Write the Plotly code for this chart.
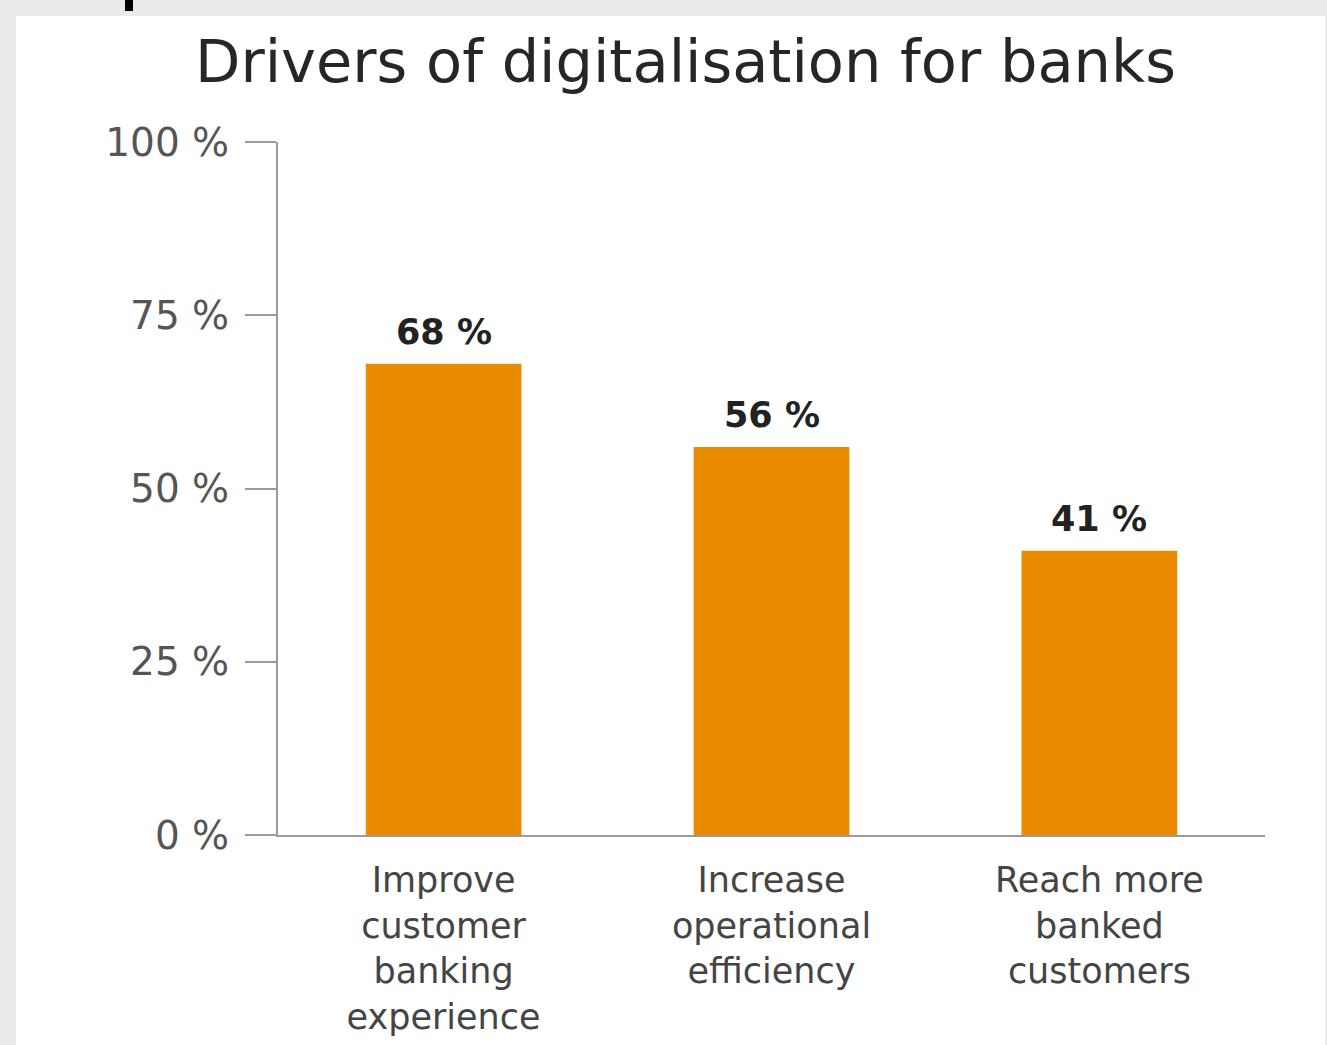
import plotly.graph_objects as go

# Survey results: share of banks naming each driver of digitalisation
drivers = [
    "Improve<br>customer<br>banking<br>experience",
    "Increase<br>operational<br>efficiency",
    "Reach more<br>banked<br>customers",
]
shares = [68, 56, 41]
y_ticks = [0, 25, 50, 75, 100]
y_tick_labels = [f"{v} %" for v in y_ticks]
title_text = "Drivers of digitalisation for banks"

BAR_COLOR = "#EB8B00"
AXIS_COLOR = "#9a9a9a"
FONT = "DejaVu Sans"

# Plot-area pixel geometry (used to place the panel behind the chart)
W, H = 1327, 1045
L, R, T, B = 278, 62, 142, 210
pw, ph = W - L - R, H - T - B


def px_x(x):
    return (x - L) / pw


def px_y(y):
    return (H - B - y) / ph


x_pos = list(range(len(drivers)))

fig = go.Figure(
    go.Bar(
        x=x_pos,
        y=shares,
        width=0.475,
        marker=dict(color=BAR_COLOR, line=dict(width=0)),
        hoverinfo="skip",
    )
)

# Value labels above each bar
for xi, v in zip(x_pos, shares):
    fig.add_annotation(
        x=xi, y=v, xref="x", yref="y",
        text=f"<b>{v} %</b>", showarrow=False,
        yanchor="bottom", yshift=10,
        font=dict(family=FONT, size=35, color="#222222"),
    )

# Title
fig.add_annotation(
    x=px_x(685), y=px_y(62), xref="paper", yref="paper",
    text=title_text, showarrow=False,
    xanchor="center", yanchor="middle",
    font=dict(family=FONT, size=59, color="#262626"),
)

# White panel on the textured grey page, plus a small black mark at the top edge
fig.add_shape(
    type="rect", xref="paper", yref="paper", layer="below",
    x0=px_x(16), x1=px_x(1325), y0=px_y(1045), y1=px_y(16),
    fillcolor="white", line=dict(width=0),
)
fig.add_shape(
    type="rect", xref="paper", yref="paper", layer="above",
    x0=px_x(125), x1=px_x(133), y0=px_y(11), y1=px_y(0),
    fillcolor="black", line=dict(width=0),
)

fig.update_layout(
    width=W, height=H,
    margin=dict(l=L, r=R, t=T, b=B, autoexpand=False),
    paper_bgcolor="#ebebeb",
    plot_bgcolor="rgba(0,0,0,0)",
    showlegend=False,
    xaxis=dict(
        range=[-0.505, 2.505],
        tickmode="array", tickvals=x_pos, ticktext=drivers,
        ticks="", showgrid=False, zeroline=False,
        showline=True, linecolor=AXIS_COLOR, linewidth=2,
        tickfont=dict(family=FONT, size=35, color="#444444"),
        ticklabelstandoff=13,
        automargin=False,
        fixedrange=True,
    ),
    yaxis=dict(
        range=[0, 100],
        tickmode="array", tickvals=y_ticks, ticktext=y_tick_labels,
        ticks="outside", ticklen=31, tickwidth=2, tickcolor=AXIS_COLOR,
        showgrid=False, zeroline=False,
        showline=True, linecolor=AXIS_COLOR, linewidth=2,
        tickfont=dict(family=FONT, size=39, color="#555555"),
        ticklabelstandoff=8,
        automargin=False,
        fixedrange=True,
    ),
)

fig.write_html("out.html", config={"displayModeBar": False})
